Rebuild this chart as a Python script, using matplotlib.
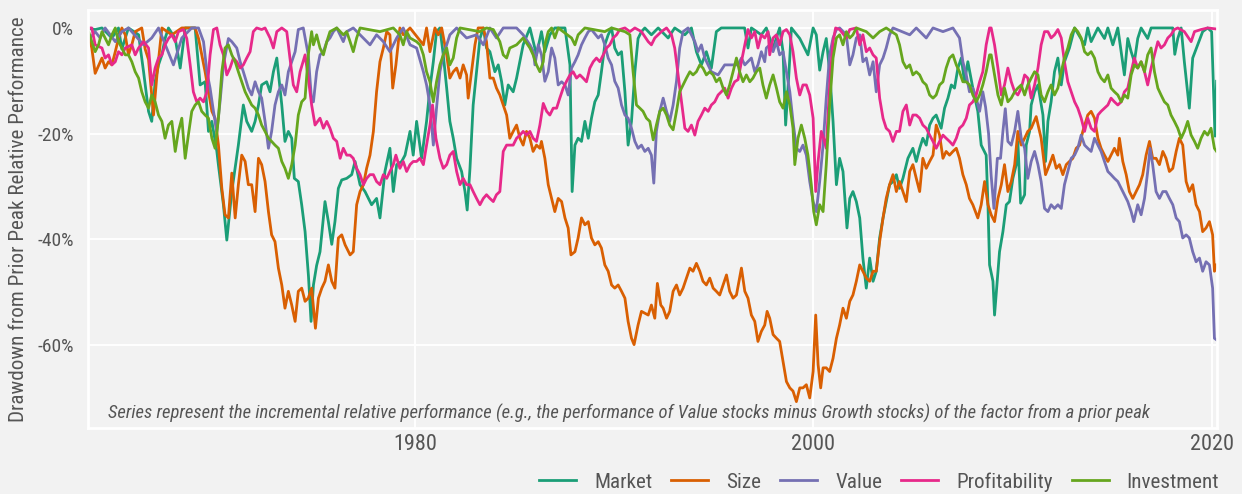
import matplotlib
matplotlib.use("Agg")
import matplotlib.pyplot as plt
from matplotlib import font_manager as fm

# drawdown from prior peak (%) of each factor
# (decimal year, drawdown)
market = [(1963.44, 0), (1963.94, -0.3), (1964.28, 0), (1964.78, -1.9), (1965.11, 0), (1965.28, -4.0),
          (1965.61, 0), (1966.12, -1.3), (1966.37, -8.3), (1966.62, -15.8), (1966.78, -17.7), (1966.95, -10.2),
          (1967.12, -7.0), (1967.29, -5.1), (1967.45, -2.0), (1967.62, 0), (1967.96, -2.0), (1968.21, -7.6),
          (1968.46, 0), (1968.96, 0), (1969.21, -10.8), (1969.46, -10.2), (1969.63, -19.6), (1969.80, -17.7),
          (1970.05, -23.4), (1970.13, -26.0), (1970.38, -33.5), (1970.55, -40.2), (1970.80, -31.0),
          (1971.13, -22.2), (1971.38, -14.6), (1971.55, -17.7), (1971.80, -19.6), (1971.97, -17.7),
          (1972.14, -14.6), (1972.30, -10.8), (1972.55, -10.2), (1972.72, -12.1), (1972.89, -8.3),
          (1973.06, -5.7), (1973.31, -14.6), (1973.47, -21.5), (1973.64, -19.6), (1973.81, -20.9),
          (1973.94, -28.5), (1974.14, -29.1), (1974.31, -33.5), (1974.48, -38.6), (1974.65, -47.0),
          (1974.78, -55.6), (1974.90, -48.7), (1975.06, -45.0), (1975.23, -42.4), (1975.48, -32.9),
          (1975.65, -36.7), (1975.82, -41.0), (1975.98, -36.7), (1976.15, -30.4), (1976.32, -28.8),
          (1976.57, -28.5), (1976.82, -27.8), (1976.99, -25.3), (1977.24, -29.7), (1977.49, -31.0),
          (1977.82, -33.5), (1978.07, -32.3), (1978.24, -36.0), (1978.49, -27.2), (1978.74, -22.8),
          (1978.91, -31.0), (1979.08, -25.9), (1979.33, -25.3), (1979.50, -24.1), (1979.75, -19.6),
          (1979.91, -24.1), (1980.08, -17.7), (1980.33, -24.7), (1980.58, -17.7), (1980.75, -11.4),
          (1980.92, -6.4), (1981.08, -0.7), (1981.25, 0), (1981.42, -5.1), (1981.59, -11.4), (1981.75, -17.7),
          (1981.92, -20.9), (1982.09, -24.7), (1982.34, -27.2), (1982.51, -31.0), (1982.62, -34.5),
          (1982.76, -26.6), (1982.92, -14.6), (1983.09, -8.3), (1983.26, -2.0), (1983.43, 0), (1983.59, -3.8),
          (1983.76, -4.5), (1984.01, -8.3), (1984.18, -7.0), (1984.35, -10.2), (1984.51, -14.6),
          (1984.68, -10.8), (1984.93, -12.1), (1985.10, -9.5), (1985.43, -3.2), (1985.77, 0), (1986.10, -5.1),
          (1986.35, -0.7), (1986.52, -4.5), (1986.77, -1.3), (1987.02, 0), (1987.53, 0), (1987.78, -7.0),
          (1987.89, -31.0), (1988.03, -22.2), (1988.19, -20.9), (1988.36, -21.5), (1988.53, -17.7),
          (1988.70, -20.9), (1988.86, -17.1), (1989.03, -14.0), (1989.20, -12.7), (1989.36, -8.3),
          (1989.53, -3.2), (1989.70, -1.3), (1989.87, 0), (1990.03, -3.8), (1990.20, -5.1), (1990.37, -4.5),
          (1990.54, -12.1), (1990.70, -22.2), (1990.87, -17.7), (1991.04, -8.3), (1991.20, -2.0),
          (1991.37, -0.7), (1991.54, 0), (1991.87, -1.3), (1992.21, 0), (1992.71, -1.9), (1993.04, 0),
          (1993.55, -1.3), (1993.88, 0), (1994.13, -4.5), (1994.38, -7.0), (1994.63, -4.5), (1994.88, -7.6),
          (1995.13, -0.7), (1995.38, 0), (1996.55, 0), (1996.72, -3.8), (1996.89, 0), (1997.39, -1.3),
          (1997.64, 0), (1997.98, -3.8), (1998.31, 0), (1998.48, -4.5), (1998.61, -18.4), (1998.78, -8.3),
          (1998.90, 0), (1999.32, -2.0), (1999.73, -5.1), (1999.99, 0), (2000.15, -1.3), (2000.32, -8.0),
          (2000.49, -4.5), (2000.65, -2.0), (2000.82, -8.3), (2000.99, -17.7), (2001.16, -29.7),
          (2001.32, -24.7), (2001.49, -27.2), (2001.69, -37.9), (2001.83, -32.3), (2001.99, -31.0),
          (2002.16, -32.9), (2002.33, -36.0), (2002.49, -43.6), (2002.66, -49.3), (2002.83, -43.6),
          (2003.00, -48.0), (2003.16, -46.1), (2003.33, -39.8), (2003.50, -36.0), (2003.66, -32.9),
          (2003.83, -29.7), (2004.00, -29.1), (2004.17, -27.8), (2004.33, -30.4), (2004.50, -28.5),
          (2004.75, -24.7), (2005.00, -22.8), (2005.17, -25.3), (2005.34, -22.8), (2005.50, -20.9),
          (2005.67, -22.2), (2005.84, -18.4), (2006.01, -17.1), (2006.17, -16.5), (2006.42, -19.0),
          (2006.59, -15.2), (2006.76, -13.3), (2006.93, -10.8), (2007.09, -11.4), (2007.26, -7.6),
          (2007.43, -5.7), (2007.59, -10.2), (2007.76, -6.4), (2008.01, -11.4), (2008.26, -15.8),
          (2008.43, -22.2), (2008.68, -24.1), (2008.77, -33.5), (2008.85, -44.9), (2009.02, -48.0),
          (2009.10, -54.4), (2009.27, -46.1), (2009.35, -42.4), (2009.52, -38.6), (2009.69, -33.5),
          (2009.85, -32.9), (2010.02, -28.5), (2010.19, -25.9), (2010.27, -21.5), (2010.41, -33.2),
          (2010.61, -31.6), (2010.69, -22.2), (2010.86, -19.6), (2010.94, -14.6), (2011.11, -12.1),
          (2011.28, -10.8), (2011.53, -16.5), (2011.66, -25.3), (2011.78, -17.7), (2011.94, -14.0),
          (2012.11, -8.3), (2012.28, -5.7), (2012.45, -10.8), (2012.61, -6.4), (2012.86, -3.8), (2013.12, 0),
          (2013.62, -3.2), (2013.78, 0), (2013.95, -2.6), (2014.29, 0), (2014.62, -2.0), (2014.79, 0),
          (2015.04, -3.2), (2015.29, 0), (2015.62, -8.9), (2015.79, -2.0), (2015.96, -4.5), (2016.12, -6.4),
          (2016.29, -2.0), (2016.46, 0), (2016.79, -2.0), (2016.96, 0), (2018.05, 0), (2018.15, -5.0),
          (2018.30, -2.0), (2018.47, 0), (2018.63, -6.4), (2018.88, -15.2), (2019.05, -5.7), (2019.30, -3.2),
          (2019.55, -0.7), (2019.80, 0), (2020.00, -0.7), (2020.17, -20.5), (2020.25, -10.1)]

size = [(1963.44, 0), (1963.61, -1.3), (1963.77, -3.8), (1963.94, -8.6), (1964.28, -5.7), (1964.44, -7.6),
        (1964.61, -6.4), (1964.78, -7.0), (1964.95, -4.5), (1965.11, -2.0), (1965.28, 0), (1965.45, -1.3),
        (1965.61, -5.1), (1965.78, -3.2), (1965.95, -0.7), (1966.28, 0), (1966.45, -4.0), (1966.62, -6.0),
        (1966.87, -16.5), (1967.04, -9.0), (1967.29, 0), (1967.79, -1.3), (1968.29, 0), (1968.96, 0),
        (1969.13, -2.0), (1969.29, -5.1), (1969.46, -8.3), (1969.63, -12.1), (1969.80, -15.8),
        (1969.96, -17.1), (1970.13, -22.2), (1970.30, -30.4), (1970.46, -35.4), (1970.63, -36.0),
        (1970.80, -27.5), (1970.97, -36.0), (1971.13, -29.7), (1971.30, -24.1), (1971.47, -25.3),
        (1971.63, -29.7), (1971.80, -29.7), (1971.97, -34.8), (1972.14, -24.7), (1972.30, -25.9),
        (1972.47, -29.1), (1972.64, -34.8), (1972.80, -39.2), (1972.97, -40.5), (1973.14, -45.5),
        (1973.31, -48.7), (1973.47, -53.1), (1973.64, -49.9), (1973.81, -52.5), (1973.98, -55.6),
        (1974.14, -49.9), (1974.31, -49.3), (1974.48, -51.8), (1974.64, -51.2), (1974.81, -49.3),
        (1975.00, -56.9), (1975.15, -51.2), (1975.32, -49.3), (1975.48, -48.0), (1975.65, -44.9),
        (1975.82, -48.0), (1975.98, -49.3), (1976.15, -39.8), (1976.32, -39.2), (1976.49, -41.1),
        (1976.74, -43.0), (1976.90, -42.4), (1977.07, -33.5), (1977.24, -31.0), (1977.41, -29.7),
        (1977.57, -26.6), (1977.74, -24.1), (1977.91, -19.6), (1978.07, -12.1), (1978.24, -6.4),
        (1978.41, -3.8), (1978.58, -0.7), (1978.74, -1.3), (1978.88, -11.4), (1979.04, -7.0), (1979.24, 0),
        (1979.41, -1.3), (1979.75, 0), (1980.42, -3.2), (1980.58, 0), (1980.75, -4.5), (1981.00, 0),
        (1981.17, -1.3), (1981.34, 0), (1981.59, -5.1), (1981.75, -9.5), (1981.92, -8.3), (1982.09, -7.6),
        (1982.26, -9.5), (1982.42, -7.0), (1982.59, -8.9), (1982.67, -13.3), (1982.84, -8.3), (1983.01, -3.2),
        (1983.17, 0), (1983.43, 0), (1983.59, -2.6), (1983.76, -9.5), (1983.93, -9.5), (1984.09, -11.4),
        (1984.26, -12.7), (1984.43, -14.6), (1984.60, -16.5), (1984.76, -20.9), (1984.93, -19.6),
        (1985.10, -18.4), (1985.27, -20.9), (1985.43, -22.2), (1985.60, -19.6), (1985.77, -20.9),
        (1985.93, -23.4), (1986.10, -22.2), (1986.27, -22.8), (1986.35, -21.5), (1986.52, -24.7),
        (1986.69, -29.7), (1986.86, -32.3), (1987.02, -34.8), (1987.19, -32.3), (1987.36, -32.9),
        (1987.53, -36.0), (1987.69, -37.9), (1987.83, -43.0), (1988.03, -42.4), (1988.19, -39.8),
        (1988.36, -36.0), (1988.53, -37.3), (1988.70, -36.7), (1988.86, -39.8), (1989.03, -41.1),
        (1989.20, -40.5), (1989.36, -41.7), (1989.53, -44.9), (1989.70, -46.1), (1989.87, -48.7),
        (1990.03, -49.3), (1990.20, -48.7), (1990.37, -49.9), (1990.54, -51.2), (1990.70, -55.6),
        (1990.87, -58.8), (1991.00, -60.0), (1991.20, -56.3), (1991.37, -53.7), (1991.71, -54.4),
        (1991.87, -52.5), (1992.04, -55.0), (1992.17, -48.4), (1992.34, -52.5), (1992.46, -53.1),
        (1992.63, -55.0), (1992.79, -53.7), (1992.96, -49.9), (1993.13, -48.7), (1993.29, -50.6),
        (1993.46, -49.3), (1993.63, -47.4), (1993.80, -45.5), (1993.96, -46.1), (1994.13, -44.6),
        (1994.30, -46.1), (1994.46, -48.0), (1994.63, -48.7), (1994.80, -47.4), (1994.97, -49.3),
        (1995.13, -49.9), (1995.30, -50.6), (1995.47, -48.7), (1995.64, -46.8), (1995.80, -49.9),
        (1995.97, -51.2), (1996.14, -50.6), (1996.39, -45.5), (1996.56, -49.9), (1996.72, -51.2),
        (1996.89, -54.4), (1997.06, -55.6), (1997.22, -59.4), (1997.39, -57.5), (1997.56, -56.3),
        (1997.68, -53.7), (1997.81, -55.0), (1997.98, -58.1), (1998.15, -58.8), (1998.31, -59.4),
        (1998.48, -63.2), (1998.65, -67.0), (1998.82, -68.2), (1998.98, -68.8), (1999.15, -70.8),
        (1999.32, -68.2), (1999.48, -68.2), (1999.65, -67.6), (1999.82, -70.1), (1999.99, -65.1),
        (2000.12, -54.4), (2000.24, -63.8), (2000.37, -68.2), (2000.49, -64.4), (2000.65, -64.4),
        (2000.82, -65.1), (2000.99, -62.6), (2001.16, -58.8), (2001.32, -56.3), (2001.49, -53.1),
        (2001.66, -55.0), (2001.83, -51.8), (2001.99, -50.6), (2002.16, -48.0), (2002.33, -44.9),
        (2002.49, -46.1), (2002.66, -47.4), (2002.83, -48.0), (2003.00, -46.1), (2003.16, -46.1),
        (2003.33, -40.5), (2003.50, -36.0), (2003.66, -32.3), (2003.83, -29.7), (2004.00, -27.8),
        (2004.17, -31.0), (2004.33, -29.1), (2004.50, -31.0), (2004.67, -32.9), (2004.84, -27.2),
        (2005.00, -25.9), (2005.17, -28.5), (2005.34, -31.0), (2005.50, -24.7), (2005.67, -26.6),
        (2005.84, -25.3), (2006.01, -24.1), (2006.17, -18.4), (2006.34, -20.3), (2006.51, -24.7),
        (2006.67, -23.4), (2006.84, -24.1), (2007.01, -23.4), (2007.18, -22.8), (2007.34, -24.7),
        (2007.51, -27.8), (2007.68, -29.7), (2007.84, -32.3), (2008.01, -33.5), (2008.26, -36.0),
        (2008.43, -33.5), (2008.60, -29.1), (2008.77, -33.5), (2008.93, -35.4), (2009.10, -36.7),
        (2009.27, -32.3), (2009.44, -29.7), (2009.60, -25.9), (2009.77, -31.0), (2009.94, -29.1),
        (2010.11, -25.9), (2010.27, -19.6), (2010.44, -22.2), (2010.61, -20.9), (2010.77, -19.6),
        (2010.94, -19.0), (2011.19, -16.8), (2011.44, -20.9), (2011.66, -27.8), (2011.86, -25.9),
        (2012.03, -24.1), (2012.20, -26.6), (2012.36, -25.9), (2012.53, -27.8), (2012.70, -25.9),
        (2012.86, -25.3), (2013.03, -24.7), (2013.20, -22.8), (2013.37, -22.2), (2013.53, -19.6),
        (2013.78, -16.5), (2013.95, -15.8), (2014.12, -17.1), (2014.29, -20.9), (2014.45, -22.8),
        (2014.62, -24.1), (2014.79, -25.3), (2014.95, -24.1), (2015.12, -22.8), (2015.29, -24.1),
        (2015.37, -20.9), (2015.54, -25.3), (2015.71, -27.8), (2015.87, -31.0), (2016.04, -32.3),
        (2016.21, -31.0), (2016.38, -29.7), (2016.54, -27.8), (2016.71, -24.1), (2016.88, -21.5),
        (2017.04, -24.7), (2017.21, -24.7), (2017.38, -25.9), (2017.55, -23.4), (2017.71, -24.7),
        (2017.88, -27.2), (2018.05, -26.6), (2018.22, -23.4), (2018.38, -20.9), (2018.55, -22.2),
        (2018.72, -29.1), (2018.88, -31.0), (2019.05, -29.7), (2019.22, -33.5), (2019.39, -34.8),
        (2019.55, -38.6), (2019.72, -37.9), (2019.89, -36.7), (2020.05, -39.2), (2020.14, -46.1),
        (2020.25, -44.9)]

value = [(1963.44, 0), (1963.69, -1.9), (1963.94, -0.7), (1964.19, -1.9), (1964.44, 0), (1964.95, -2.6),
         (1965.28, -0.7), (1965.61, 0), (1966.37, -3.2), (1966.78, -1.9), (1967.12, 0), (1967.87, -7.0),
         (1968.29, -1.9), (1968.79, 0), (1969.13, 0), (1969.38, -2.6), (1969.55, -8.3), (1969.71, -11.4),
         (1969.88, -15.8), (1970.05, -19.6), (1970.21, -14.0), (1970.38, -7.0), (1970.63, -2.0),
         (1970.80, -2.6), (1971.05, -3.8), (1971.22, -6.4), (1971.38, -8.3), (1971.63, -11.4),
         (1971.80, -12.7), (1971.97, -10.2), (1972.14, -12.1), (1972.30, -13.3), (1972.47, -17.7),
         (1972.64, -22.8), (1972.80, -19.6), (1972.97, -14.6), (1973.14, -12.1), (1973.31, -10.8),
         (1973.47, -12.7), (1973.64, -8.3), (1973.81, -6.4), (1973.98, -4.5), (1974.14, -0.3), (1974.39, 0),
         (1974.64, -5.1), (1974.81, -14.0), (1974.90, -14.0), (1975.06, -8.3), (1975.23, -5.1),
         (1975.40, -4.5), (1975.57, -2.6), (1975.73, -1.9), (1975.90, -0.7), (1976.07, 0), (1976.40, -2.6),
         (1976.57, -0.7), (1976.90, 0), (1977.74, -3.2), (1978.07, -1.3), (1978.41, -2.6), (1978.74, -4.5),
         (1979.08, -1.9), (1979.41, 0), (1979.75, -3.2), (1980.08, -3.8), (1980.42, -8.3), (1980.58, -10.8),
         (1980.75, -14.6), (1980.92, -22.2), (1981.08, -15.2), (1981.25, -8.3), (1981.42, -5.1),
         (1981.59, -3.2), (1981.75, -1.3), (1982.09, 0), (1982.59, -1.9), (1983.09, -1.3), (1983.43, -3.2),
         (1983.76, 0), (1984.09, -1.9), (1984.43, 0), (1985.10, 0), (1985.43, -1.3), (1985.77, -3.2),
         (1985.95, -4.5), (1986.02, -7.0), (1986.19, -3.2), (1986.35, -5.1), (1986.52, -10.1),
         (1986.69, -8.3), (1986.86, -3.8), (1987.02, -5.7), (1987.19, -10.8), (1987.36, -10.2),
         (1987.53, -10.8), (1987.69, -12.7), (1987.86, -7.6), (1988.03, -6.4), (1988.19, -5.1),
         (1988.36, -3.2), (1988.53, -1.9), (1988.70, -0.7), (1988.86, -0.3), (1989.20, -1.9), (1989.36, -1.3),
         (1989.53, -3.2), (1989.70, -5.7), (1989.87, -7.0), (1990.03, -10.1), (1990.20, -11.4),
         (1990.37, -14.6), (1990.54, -16.5), (1990.70, -17.1), (1990.87, -19.0), (1991.04, -21.5),
         (1991.20, -22.8), (1991.37, -22.2), (1991.54, -23.4), (1991.71, -22.8), (1991.87, -24.1),
         (1991.99, -29.4), (1992.12, -19.6), (1992.29, -15.8), (1992.46, -13.3), (1992.63, -15.8),
         (1992.79, -17.7), (1992.96, -14.6), (1993.13, -10.1), (1993.29, -3.8), (1993.46, -0.7),
         (1993.71, 0), (1993.88, -1.3), (1994.05, -2.6), (1994.21, -4.5), (1994.38, -3.2), (1994.55, -5.7),
         (1994.88, -8.3), (1995.22, -8.9), (1995.55, -7.0), (1995.89, -7.0), (1996.22, -7.0),
         (1996.39, -5.7), (1996.56, -7.0), (1996.89, -5.7), (1997.06, -8.3), (1997.22, -7.0),
         (1997.39, -4.5), (1997.56, -6.4), (1997.64, -3.8), (1997.81, -3.2), (1997.98, -4.5),
         (1998.15, -2.6), (1998.31, -5.1), (1998.48, -4.5), (1998.65, -8.3), (1998.82, -12.1),
         (1998.98, -17.7), (1999.15, -22.8), (1999.32, -23.4), (1999.48, -22.2), (1999.65, -24.1),
         (1999.82, -29.1), (1999.99, -32.9), (2000.15, -34.8), (2000.32, -29.1), (2000.49, -22.2),
         (2000.65, -13.3), (2000.82, -5.1), (2000.99, -1.9), (2001.16, -0.3), (2001.32, 0), (2001.66, -1.3),
         (2001.83, -7.0), (2001.99, -5.1), (2002.16, -1.9), (2002.33, -1.3), (2002.49, -6.4), (2002.66, -5.7),
         (2002.83, -8.9), (2003.00, -6.4), (2003.16, -12.1), (2003.33, -7.0), (2003.50, -5.7),
         (2003.66, -3.8), (2003.83, -1.3), (2004.00, 0), (2004.84, -1.3), (2005.17, 0), (2005.67, -1.9),
         (2006.01, 0), (2006.51, -0.7), (2007.01, 0), (2007.34, -1.9), (2007.51, -6.4), (2007.68, -8.9),
         (2007.84, -12.1), (2008.01, -11.4), (2008.18, -13.3), (2008.35, -15.8), (2008.51, -12.1),
         (2008.65, -15.0), (2008.80, -20.0), (2008.93, -28.0), (2009.07, -34.2), (2009.24, -24.7),
         (2009.40, -24.7), (2009.52, -19.6), (2009.64, -15.3), (2009.77, -21.5), (2009.94, -22.2),
         (2010.11, -19.6), (2010.27, -15.8), (2010.44, -20.9), (2010.61, -22.8), (2010.77, -28.5),
         (2010.94, -25.3), (2011.11, -23.4), (2011.28, -25.9), (2011.44, -29.1), (2011.61, -34.2),
         (2011.78, -34.8), (2011.94, -33.5), (2012.11, -34.2), (2012.28, -33.5), (2012.45, -34.2),
         (2012.61, -29.7), (2012.78, -27.2), (2012.95, -24.7), (2013.12, -24.1), (2013.28, -22.8),
         (2013.45, -20.3), (2013.62, -22.2), (2013.78, -22.8), (2013.95, -23.4), (2014.12, -20.9),
         (2014.29, -22.2), (2014.45, -23.4), (2014.62, -25.3), (2014.79, -27.2), (2014.95, -27.8),
         (2015.12, -28.5), (2015.29, -29.1), (2015.46, -30.4), (2015.62, -31.6), (2015.79, -32.9),
         (2015.96, -34.8), (2016.09, -36.7), (2016.29, -33.5), (2016.46, -35.4), (2016.63, -32.3),
         (2016.79, -27.2), (2016.91, -22.8), (2017.04, -25.9), (2017.21, -31.0), (2017.38, -32.3),
         (2017.55, -31.0), (2017.71, -31.0), (2017.88, -32.3), (2018.05, -33.5), (2018.22, -36.0),
         (2018.38, -36.7), (2018.55, -39.8), (2018.72, -39.2), (2018.88, -39.8), (2019.05, -42.4),
         (2019.22, -44.3), (2019.39, -43.6), (2019.55, -46.1), (2019.72, -44.3), (2019.89, -44.9),
         (2020.05, -49.3), (2020.14, -58.8), (2020.25, -59.1)]

profitability = [(1963.44, 0), (1963.77, 0), (1963.94, -3.2), (1964.28, -3.8), (1964.44, -5.7), (1964.61, -5.1),
                 (1964.78, -7.0), (1964.95, -6.4), (1965.11, -4.5), (1965.28, -5.1), (1965.45, -3.8),
                 (1965.78, -3.2), (1965.95, -5.1), (1966.12, -3.8), (1966.37, -2.6), (1966.62, -3.8),
                 (1966.78, -10.8), (1966.95, -7.6), (1967.12, -5.7), (1967.29, -5.1), (1967.45, -3.2),
                 (1967.62, -2.0), (1967.79, -1.3), (1967.96, -2.6), (1968.12, -0.7), (1968.37, -0.3),
                 (1968.54, -2.0), (1968.71, -7.0), (1968.87, -12.1), (1969.04, -14.0), (1969.21, -13.3),
                 (1969.38, -14.0), (1969.55, -12.1), (1969.71, -5.1), (1969.88, -0.3), (1970.05, 0),
                 (1970.21, -3.2), (1970.38, -5.1), (1970.55, -8.9), (1970.71, -7.6), (1970.88, -5.7),
                 (1971.05, -6.4), (1971.22, -7.6), (1971.38, -7.0), (1971.55, -5.7), (1971.72, -4.5),
                 (1971.88, -0.7), (1972.05, 0), (1972.30, -0.3), (1972.47, 0), (1972.72, -1.9), (1972.89, -3.8),
                 (1973.06, -0.7), (1973.31, 0), (1973.56, -0.7), (1973.72, -5.7), (1973.89, -10.8),
                 (1974.06, -12.1), (1974.23, -8.3), (1974.48, -5.1), (1974.64, -9.5), (1974.81, -14.6),
                 (1974.98, -18.4), (1975.23, -17.1), (1975.40, -19.0), (1975.57, -17.7), (1975.73, -19.0),
                 (1975.90, -20.9), (1976.07, -21.5), (1976.24, -24.7), (1976.40, -22.8), (1976.57, -24.1),
                 (1976.74, -24.1), (1976.90, -24.7), (1977.07, -26.6), (1977.24, -27.8), (1977.41, -29.7),
                 (1977.57, -28.5), (1977.74, -27.8), (1977.91, -27.8), (1978.07, -29.1), (1978.24, -29.7),
                 (1978.41, -27.8), (1978.58, -28.5), (1978.74, -27.2), (1978.91, -25.9), (1979.04, -24.1),
                 (1979.24, -26.6), (1979.41, -25.3), (1979.58, -27.2), (1979.75, -25.9), (1979.91, -25.3),
                 (1980.08, -25.3), (1980.25, -24.7), (1980.42, -25.9), (1980.58, -22.2), (1980.75, -18.4),
                 (1980.88, -14.6), (1981.05, -20.9), (1981.25, -24.7), (1981.42, -26.6), (1981.59, -25.9),
                 (1981.75, -24.1), (1981.92, -23.4), (1982.09, -27.2), (1982.26, -29.7), (1982.42, -28.5),
                 (1982.59, -29.7), (1982.76, -29.7), (1982.92, -31.0), (1983.09, -32.3), (1983.26, -33.5),
                 (1983.43, -32.3), (1983.59, -31.6), (1983.76, -32.3), (1983.93, -32.9), (1984.09, -31.6),
                 (1984.26, -31.0), (1984.43, -23.4), (1984.60, -22.2), (1984.76, -22.2), (1984.93, -22.2),
                 (1985.10, -20.9), (1985.27, -20.3), (1985.43, -19.6), (1985.60, -20.3), (1985.77, -19.6),
                 (1985.93, -20.9), (1986.10, -21.5), (1986.27, -18.4), (1986.44, -14.3), (1986.61, -15.8),
                 (1986.77, -16.5), (1986.94, -15.2), (1987.11, -15.2), (1987.27, -13.3), (1987.44, -11.4),
                 (1987.61, -10.1), (1987.78, -8.9), (1987.94, -8.3), (1988.11, -9.5), (1988.28, -8.9),
                 (1988.44, -9.5), (1988.61, -10.2), (1988.78, -7.6), (1988.95, -6.4), (1989.11, -5.7),
                 (1989.28, -6.4), (1989.45, -5.1), (1989.62, -3.8), (1989.78, -3.2), (1989.95, -1.9),
                 (1990.12, -1.3), (1990.28, -0.3), (1990.54, 0), (1990.79, -0.7), (1991.04, 0), (1991.37, -0.7),
                 (1991.71, -2.6), (1991.87, -3.2), (1992.04, -1.9), (1992.37, -0.7), (1992.63, 0),
                 (1992.88, -1.3), (1993.04, -3.8), (1993.21, -8.9), (1993.38, -14.0), (1993.55, -19.0),
                 (1993.71, -19.6), (1993.88, -18.4), (1994.05, -20.3), (1994.21, -17.7), (1994.38, -16.5),
                 (1994.55, -15.2), (1994.72, -15.8), (1994.88, -14.6), (1995.05, -14.0), (1995.22, -12.7),
                 (1995.38, -12.1), (1995.55, -11.4), (1995.72, -13.3), (1995.89, -11.4), (1996.05, -10.2),
                 (1996.22, -9.8), (1996.39, -6.4), (1996.56, -3.2), (1996.72, -0.3), (1996.89, -1.9),
                 (1997.06, -0.7), (1997.22, -3.8), (1997.39, -1.3), (1997.56, -1.9), (1997.73, -0.7),
                 (1997.81, -5.1), (1997.98, -1.9), (1998.15, -1.3), (1998.31, -3.2), (1998.48, -0.7),
                 (1998.65, -0.3), (1998.82, -1.3), (1998.98, -4.5), (1999.15, -9.5), (1999.32, -12.7),
                 (1999.48, -10.8), (1999.65, -10.8), (1999.82, -12.7), (1999.99, -17.1), (2000.12, -31.0),
                 (2000.24, -25.3), (2000.40, -19.6), (2000.52, -20.9), (2000.65, -22.8), (2000.82, -10.8),
                 (2000.99, -2.6), (2001.12, 0), (2001.32, -0.3), (2001.66, -1.9), (2001.83, -0.3), (2002.16, 0),
                 (2002.33, -3.2), (2002.49, -1.3), (2002.66, -4.5), (2002.83, -3.8), (2003.00, -5.1),
                 (2003.16, -5.7), (2003.33, -13.3), (2003.50, -17.1), (2003.66, -19.0), (2003.83, -19.6),
                 (2004.00, -21.5), (2004.17, -19.6), (2004.33, -19.6), (2004.50, -15.8), (2004.67, -14.6),
                 (2004.84, -18.4), (2005.00, -16.5), (2005.17, -16.5), (2005.34, -17.1), (2005.50, -18.4),
                 (2005.67, -19.0), (2005.84, -20.3), (2006.01, -21.5), (2006.17, -22.8), (2006.34, -21.5),
                 (2006.51, -20.3), (2006.67, -20.9), (2006.84, -21.5), (2007.01, -22.2), (2007.18, -20.9),
                 (2007.34, -19.0), (2007.51, -18.4), (2007.68, -17.1), (2007.84, -14.6), (2008.01, -14.0),
                 (2008.18, -12.7), (2008.35, -10.2), (2008.51, -8.3), (2008.68, -3.2), (2008.85, 0),
                 (2008.93, 0), (2009.10, -3.2), (2009.27, -7.6), (2009.44, -12.7), (2009.60, -10.8),
                 (2009.77, -7.6), (2009.94, -10.2), (2010.11, -12.1), (2010.27, -12.7), (2010.44, -11.4),
                 (2010.61, -8.9), (2010.77, -9.5), (2010.94, -13.3), (2011.11, -10.8), (2011.28, -7.6),
                 (2011.44, -3.2), (2011.61, -0.7), (2011.78, -0.7), (2011.94, -1.9), (2012.11, -1.3),
                 (2012.28, -0.3), (2012.45, -1.9), (2012.61, -6.4), (2012.78, -10.2), (2012.95, -12.1),
                 (2013.12, -14.0), (2013.28, -15.2), (2013.45, -17.1), (2013.62, -19.6), (2013.78, -17.1),
                 (2013.95, -19.0), (2014.12, -19.6), (2014.29, -16.5), (2014.45, -15.8), (2014.62, -15.2),
                 (2014.79, -14.6), (2014.95, -13.3), (2015.12, -14.0), (2015.29, -14.6), (2015.46, -14.0),
                 (2015.62, -12.1), (2015.79, -11.4), (2015.96, -8.3), (2016.12, -5.7), (2016.29, -7.6),
                 (2016.46, -6.4), (2016.63, -8.3), (2016.79, -10.8), (2016.96, -7.6), (2017.13, -5.1),
                 (2017.30, -2.6), (2017.46, -3.8), (2017.63, -3.2), (2017.80, -1.9), (2017.96, -1.3),
                 (2018.13, -0.3), (2018.30, 0), (2018.63, -0.7), (2018.97, -2.6), (2019.14, -0.7),
                 (2019.47, -0.3), (2019.80, 0), (2020.25, -0.2)]

investment = [(1963.44, 0), (1963.61, -0.7), (1963.77, -2.6), (1963.94, -4.5), (1964.11, -3.2), (1964.28, -0.7),
              (1964.44, -1.9), (1964.61, -3.2), (1964.78, -1.3), (1964.95, 0), (1965.11, -2.6), (1965.28, -3.8),
              (1965.45, -5.1), (1965.61, -5.1), (1965.78, -6.4), (1965.95, -8.3), (1966.12, -9.5),
              (1966.28, -12.1), (1966.45, -14.0), (1966.62, -15.2), (1966.78, -12.7), (1966.95, -14.0),
              (1967.12, -16.5), (1967.29, -17.7), (1967.45, -20.9), (1967.62, -18.4), (1967.79, -17.7),
              (1967.96, -23.4), (1968.12, -19.6), (1968.29, -17.1), (1968.46, -24.7), (1968.62, -20.3),
              (1968.79, -15.8), (1968.96, -14.6), (1969.13, -14.0), (1969.29, -15.8), (1969.46, -16.5),
              (1969.63, -17.1), (1969.80, -20.9), (1969.96, -22.8), (1970.13, -17.1), (1970.30, -8.3),
              (1970.46, -3.8), (1970.63, -3.2), (1970.80, -5.1), (1970.97, -6.4), (1971.13, -8.3),
              (1971.30, -10.2), (1971.47, -12.1), (1971.63, -13.3), (1971.80, -14.6), (1971.97, -15.2),
              (1972.14, -16.5), (1972.30, -18.4), (1972.47, -19.6), (1972.64, -20.9), (1972.80, -21.5),
              (1972.97, -22.2), (1973.14, -22.8), (1973.31, -25.3), (1973.47, -26.6), (1973.64, -28.5),
              (1973.81, -25.9), (1973.98, -22.2), (1974.14, -16.5), (1974.31, -14.0), (1974.48, -13.3),
              (1974.64, -5.1), (1974.81, -0.7), (1974.90, -3.2), (1975.06, -1.3), (1975.23, -3.8),
              (1975.40, -5.1), (1975.57, -2.6), (1975.73, -0.7), (1976.07, 0), (1976.40, -1.3), (1976.57, -0.7),
              (1976.74, -2.6), (1976.90, -4.5), (1977.07, -1.9), (1977.24, 0), (1978.24, -0.7), (1978.91, 0),
              (1979.24, -1.3), (1979.41, -3.2), (1979.58, -0.7), (1979.75, -1.9), (1980.08, -2.6),
              (1980.25, -3.2), (1980.42, -5.1), (1980.58, -8.3), (1980.75, -10.2), (1980.92, -14.0),
              (1981.08, -10.2), (1981.25, -7.0), (1981.42, -5.1), (1981.59, -3.8), (1981.75, -7.0),
              (1981.92, -5.7), (1982.09, -1.9), (1982.26, 0), (1983.26, -0.7), (1983.59, 0), (1983.93, -0.3),
              (1984.26, -2.6), (1984.43, -5.1), (1984.60, -5.7), (1984.76, -3.8), (1985.10, -3.2),
              (1985.43, -1.9), (1985.77, -3.8), (1985.93, -5.1), (1986.10, -7.0), (1986.27, -8.3),
              (1986.44, -6.4), (1986.52, -3.2), (1986.69, -0.7), (1986.86, 0), (1987.02, -1.9), (1987.19, 0),
              (1987.86, -1.9), (1988.03, -3.2), (1988.19, -1.3), (1988.53, 0), (1989.53, -0.7), (1989.87, 0),
              (1990.54, -0.7), (1990.79, -1.3), (1990.95, -8.3), (1991.12, -14.6), (1991.29, -15.2),
              (1991.45, -15.8), (1991.62, -17.1), (1991.79, -17.7), (1991.96, -21.2), (1992.12, -18.4),
              (1992.29, -15.8), (1992.46, -15.2), (1992.63, -16.5), (1992.79, -18.4), (1992.96, -19.3),
              (1993.13, -15.8), (1993.29, -12.1), (1993.46, -10.8), (1993.63, -9.5), (1993.80, -8.3),
              (1993.96, -8.9), (1994.13, -8.3), (1994.30, -7.0), (1994.46, -7.6), (1994.63, -8.9),
              (1994.80, -8.3), (1994.97, -8.9), (1995.13, -10.2), (1995.30, -9.5), (1995.47, -11.4),
              (1995.64, -12.7), (1995.80, -10.8), (1995.97, -8.3), (1996.14, -5.7), (1996.30, -8.3),
              (1996.47, -10.2), (1996.64, -8.9), (1996.81, -10.2), (1996.97, -9.5), (1997.14, -8.3),
              (1997.31, -7.6), (1997.47, -10.8), (1997.64, -13.3), (1997.81, -10.8), (1997.98, -8.9),
              (1998.15, -11.4), (1998.31, -14.0), (1998.48, -15.2), (1998.65, -12.1), (1998.82, -14.6),
              (1998.98, -19.0), (1999.07, -25.9), (1999.23, -20.9), (1999.40, -18.4), (1999.57, -20.9),
              (1999.73, -24.1), (1999.90, -29.7), (2000.02, -34.8), (2000.15, -37.3), (2000.32, -33.5),
              (2000.49, -34.8), (2000.65, -25.9), (2000.82, -14.6), (2000.99, -5.7), (2001.16, -1.9),
              (2001.32, -1.3), (2001.49, -3.2), (2001.66, -0.7), (2001.83, -1.9), (2001.99, -1.3), (2002.16, 0),
              (2002.66, -0.7), (2003.00, -1.9), (2003.33, -0.7), (2003.66, 0), (2004.17, -1.3), (2004.33, -3.2),
              (2004.50, -6.4), (2004.67, -7.6), (2004.84, -7.0), (2005.00, -8.9), (2005.17, -8.3),
              (2005.34, -8.9), (2005.50, -10.2), (2005.67, -10.8), (2005.84, -12.7), (2006.01, -13.3),
              (2006.17, -12.7), (2006.34, -10.8), (2006.51, -10.2), (2006.67, -7.6), (2006.84, -5.7),
              (2007.01, -5.1), (2007.18, -7.0), (2007.34, -8.3), (2007.51, -10.2), (2007.68, -10.2),
              (2007.84, -10.8), (2008.01, -12.7), (2008.18, -14.0), (2008.35, -12.7), (2008.51, -10.8),
              (2008.68, -8.3), (2008.85, -5.1), (2008.93, -5.1), (2009.10, -8.9), (2009.27, -12.7),
              (2009.44, -14.6), (2009.60, -11.4), (2009.77, -14.0), (2009.94, -13.3), (2010.11, -12.1),
              (2010.27, -11.4), (2010.44, -10.8), (2010.61, -12.7), (2010.77, -10.8), (2010.94, -9.5),
              (2011.11, -8.3), (2011.28, -8.9), (2011.44, -12.7), (2011.61, -14.0), (2011.78, -12.1),
              (2011.94, -10.8), (2012.11, -12.7), (2012.28, -11.4), (2012.45, -8.3), (2012.61, -5.7),
              (2012.78, -3.8), (2012.95, -1.3), (2013.12, 0), (2013.28, -0.7), (2013.45, -1.9), (2013.62, -4.5),
              (2013.78, -5.1), (2013.95, -4.5), (2014.12, -5.7), (2014.29, -8.3), (2014.45, -9.5),
              (2014.62, -10.2), (2014.79, -8.9), (2014.95, -11.4), (2015.12, -12.1), (2015.29, -12.7),
              (2015.46, -14.0), (2015.62, -12.7), (2015.79, -13.3), (2015.96, -8.9), (2016.12, -7.0),
              (2016.29, -7.6), (2016.46, -6.4), (2016.63, -8.3), (2016.79, -5.1), (2016.96, -3.8),
              (2017.13, -8.3), (2017.30, -11.4), (2017.46, -12.7), (2017.63, -14.0), (2017.80, -14.6),
              (2017.96, -16.5), (2018.13, -17.7), (2018.30, -19.0), (2018.47, -20.9), (2018.63, -19.6),
              (2018.80, -17.7), (2018.97, -20.3), (2019.14, -21.5), (2019.30, -22.8), (2019.47, -20.9),
              (2019.64, -19.6), (2019.80, -20.3), (2019.97, -19.0), (2020.14, -22.8), (2020.25, -23.4)]

series_names = ["Market", "Size", "Value", "Profitability", "Investment"]
series_data = [market, size, value, profitability, investment]
colors = ["#1B9E77", "#D95F02", "#7570B3", "#E7298A", "#66A61E"]

y_ticks = [0, -20, -40, -60]
y_tick_labels = ["0%", "-20%", "-40%", "-60%"]
x_ticks = [1980, 2000, 2020]
x_tick_labels = ["1980", "2000", "2020"]

caption = ("Series represent the incremental relative performance (e.g., the performance of "
           "Value stocks minus Growth stocks) of the factor from a prior peak")

# condensed font, like the reference
installed = {f.name for f in fm.fontManager.ttflist}
font = "DejaVu Sans"
for cand in ["Roboto Condensed", "Fira Sans Condensed", "Barlow Condensed", "Archivo Narrow", "Asap Condensed"]:
    if cand in installed:
        font = cand
        break
plt.rcParams["font.family"] = [font, "DejaVu Sans"]

bg = "#F2F2F2"
grey = "#555555"

fig = plt.figure(figsize=(12.42, 4.94), dpi=100)
fig.set_facecolor(bg)
ax = fig.add_axes([88 / 1242, 1 - 428 / 494, (1217 - 88) / 1242, (428 - 10) / 494])
ax.set_facecolor(bg)

for name, data, c in zip(series_names, series_data, colors):
    xs = [p[0] for p in data]
    ys = [p[1] for p in data]
    ax.plot(xs, ys, color=c, lw=2.0, label=name, solid_joinstyle="round")

ax.set_xlim(1963.58, 2020.27)
ax.set_ylim(-75.8, 3.4)
ax.set_xticks(x_ticks)
ax.set_xticklabels(x_tick_labels)
ax.set_yticks(y_ticks)
ax.set_yticklabels(y_tick_labels)
ax.tick_params(axis="both", length=0, colors=grey)
ax.tick_params(axis="x", labelsize=16, pad=4)
ax.tick_params(axis="y", labelsize=14, pad=10)
ax.grid(True, color="white", lw=1.4)
ax.set_axisbelow(True)
for s in ax.spines.values():
    s.set_color("white")
    s.set_linewidth(2)

ax.set_ylabel("Drawdown from Prior Peak Relative Performance", fontsize=15.2, color=grey, labelpad=7)

ax.text(0.0177, 0.013, caption, transform=ax.transAxes, fontsize=13.4, color=grey,
        style="italic", ha="left", va="bottom")

fig.legend(loc="center right", bbox_to_anchor=(1238 / 1242, 1 - 482 / 494), ncol=5, frameon=False,
           fontsize=15.2, handlelength=1.75, handletextpad=0.85, columnspacing=0.9, labelcolor=grey)

fig.savefig("out.png", dpi=100, facecolor=bg)
